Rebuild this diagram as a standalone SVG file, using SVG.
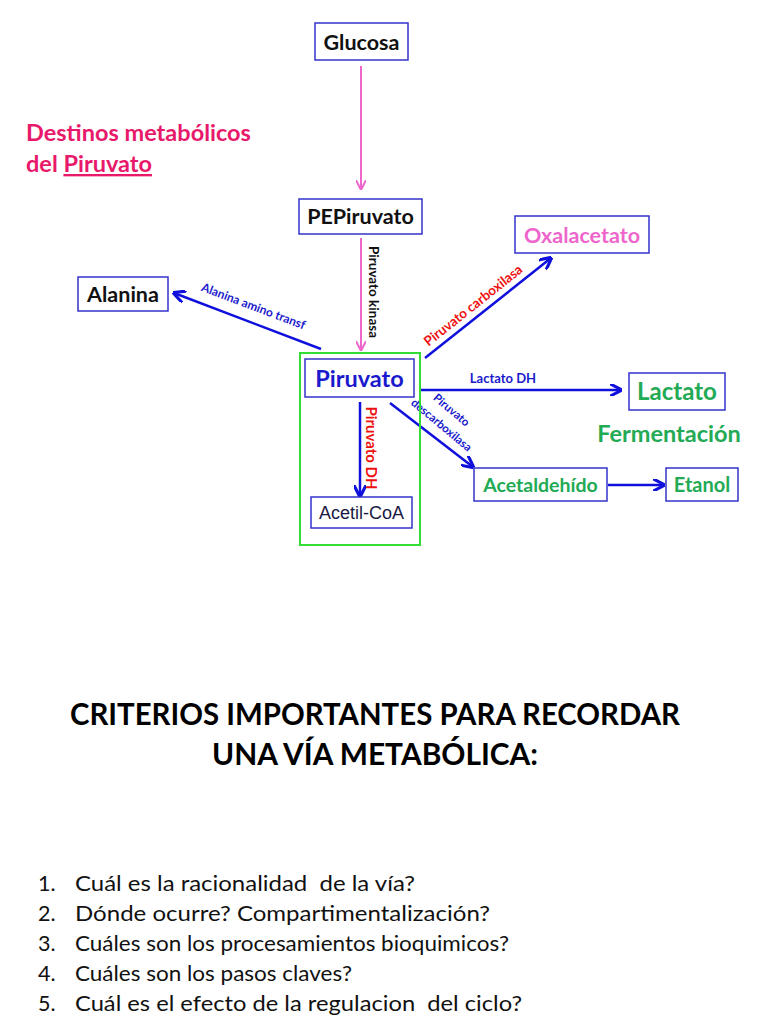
<svg xmlns="http://www.w3.org/2000/svg" width="768" height="1024" viewBox="0 0 768 1024">
<defs>
<style>
text{font-family:Lato,"Open Sans","Liberation Sans",sans-serif;}
.b{font-weight:bold;}
.box{fill:#fff;stroke:#3333cc;stroke-width:1.5;}
.pink{stroke:#ee66cc;stroke-width:2;fill:none;}
.blue{stroke:#1010dd;stroke-width:2.5;fill:none;}
</style>
<marker id="ap" viewBox="0 0 10 10" refX="9" refY="5" markerWidth="5" markerHeight="5" orient="auto"><path d="M0,0 L10,5 L0,10" fill="none" stroke="#ee66cc" stroke-width="2"/></marker>
<marker id="ab" viewBox="0 0 10 10" refX="9" refY="5" markerWidth="5" markerHeight="5" orient="auto"><path d="M0,0 L10,5 L0,10" fill="none" stroke="#1010dd" stroke-width="2.5"/></marker>
</defs>
<rect width="768" height="1024" fill="#fff"/>

<text x="26" y="141" class="b" font-size="23.5" fill="#e8196a">Destinos metabólicos</text>
<text x="26" y="172" class="b" font-size="23.5" fill="#e8196a">del <tspan text-decoration="underline">Piruvato</tspan></text>

<g id="connectors">
<line x1="361" y1="66" x2="361" y2="189" class="pink" marker-end="url(#ap)"/>
<line x1="361" y1="238" x2="361" y2="350" class="pink" marker-end="url(#ap)"/>
<line x1="321" y1="349" x2="174" y2="293" class="blue" marker-end="url(#ab)"/>
<line x1="425" y1="358" x2="551" y2="258" class="blue" marker-end="url(#ab)"/>
<line x1="420" y1="390" x2="621" y2="390" class="blue" marker-end="url(#ab)"/>
<line x1="390" y1="403" x2="473" y2="467" class="blue" marker-end="url(#ab)"/>
<line x1="360" y1="402" x2="360" y2="496" class="blue" marker-end="url(#ab)"/>
<line x1="608" y1="485" x2="664" y2="485" class="blue" marker-end="url(#ab)"/>
<text transform="translate(369,292) rotate(90)" text-anchor="middle" class="b" font-size="13.5" fill="#111">Piruvato kinasa</text>
<text transform="translate(252,310) rotate(20.7)" text-anchor="middle" class="b" font-size="12" fill="#1a1acc">Alanina amino transf</text>
<text transform="translate(476,309) rotate(-38.5)" text-anchor="middle" class="b" font-size="13.5" fill="#ee1111">Piruvato carboxilasa</text>
<text x="503" y="383" text-anchor="middle" class="b" font-size="13" fill="#1a1acc">Lactato DH</text>
<text transform="translate(449,413) rotate(40)" text-anchor="middle" class="b" font-size="11.5" fill="#1a1acc">Piruvato</text>
<text transform="translate(439,428) rotate(40)" text-anchor="middle" class="b" font-size="11.5" fill="#1a1acc">descarboxilasa</text>
<text transform="translate(366,448) rotate(90)" text-anchor="middle" class="b" font-size="15" fill="#ee1111">Piruvato DH</text>
</g>

<g id="glucosa"><rect x="315" y="23" width="93" height="37" class="box"/><text x="361.5" y="50" text-anchor="middle" class="b" font-size="21.5" fill="#111">Glucosa</text></g>
<g id="pepiruvato"><rect x="299" y="199" width="123" height="35" class="box"/><text x="360.5" y="224" text-anchor="middle" class="b" font-size="21.5" fill="#111">PEPiruvato</text></g>
<g id="alanina"><rect x="78" y="277" width="90" height="34" class="box"/><text x="123" y="302" text-anchor="middle" class="b" font-size="21.5" fill="#111">Alanina</text></g>
<g id="oxalacetato"><rect x="515" y="216" width="134" height="37" class="box"/><text x="582" y="243" text-anchor="middle" class="b" font-size="21.5" fill="#ee66cc">Oxalacetato</text></g>
<g id="mitocondria"><rect x="300" y="353" width="120" height="192" fill="none" stroke="#33dd33" stroke-width="2"/></g>
<g id="piruvato"><rect x="305" y="359" width="109" height="38" class="box"/><text x="359.5" y="387" text-anchor="middle" class="b" font-size="23.5" fill="#1a1acc">Piruvato</text></g>
<g id="acetilcoa"><rect x="311" y="497" width="101" height="31" class="box"/><text x="361.5" y="519" text-anchor="middle" font-size="18" fill="#1a1a44" style="font-family:'Liberation Sans',sans-serif">Acetil-CoA</text></g>
<g id="lactato"><rect x="629" y="373" width="96" height="37" class="box"/><text x="677" y="400" text-anchor="middle" class="b" font-size="24" fill="#22aa55">Lactato</text></g>
<text x="669" y="442" text-anchor="middle" class="b" font-size="23.5" fill="#22aa55">Fermentación</text>
<g id="acetaldehido"><rect x="474" y="468" width="133" height="33" class="box"/><text x="540.5" y="492" text-anchor="middle" class="b" font-size="19.5" fill="#22aa55">Acetaldehído</text></g>
<g id="etanol"><rect x="666" y="468" width="72" height="33" class="box"/><text x="702" y="492" text-anchor="middle" class="b" font-size="20" fill="#22aa55">Etanol</text></g>

<text x="375" y="725" text-anchor="middle" class="b" font-size="31" fill="#000" textLength="610" lengthAdjust="spacingAndGlyphs">CRITERIOS IMPORTANTES PARA RECORDAR</text>
<text x="375" y="765" text-anchor="middle" class="b" font-size="31" fill="#000" textLength="326" lengthAdjust="spacingAndGlyphs">UNA VÍA METABÓLICA:</text>

<g font-size="21.5" fill="#111">
<text x="38" y="891">1.</text><text x="75" y="891" textLength="340" lengthAdjust="spacingAndGlyphs" xml:space="preserve">Cuál es la racionalidad  de la vía?</text>
<text x="38" y="921">2.</text><text x="75" y="921" textLength="415" lengthAdjust="spacingAndGlyphs">Dónde ocurre? Compartimentalización?</text>
<text x="38" y="951">3.</text><text x="75" y="951" textLength="434" lengthAdjust="spacingAndGlyphs">Cuáles son los procesamientos bioquimicos?</text>
<text x="38" y="981">4.</text><text x="75" y="981" textLength="277" lengthAdjust="spacingAndGlyphs">Cuáles son los pasos claves?</text>
<text x="38" y="1011">5.</text><text x="75" y="1011" textLength="447" lengthAdjust="spacingAndGlyphs" xml:space="preserve">Cuál es el efecto de la regulacion  del ciclo?</text>
</g>
</svg>
